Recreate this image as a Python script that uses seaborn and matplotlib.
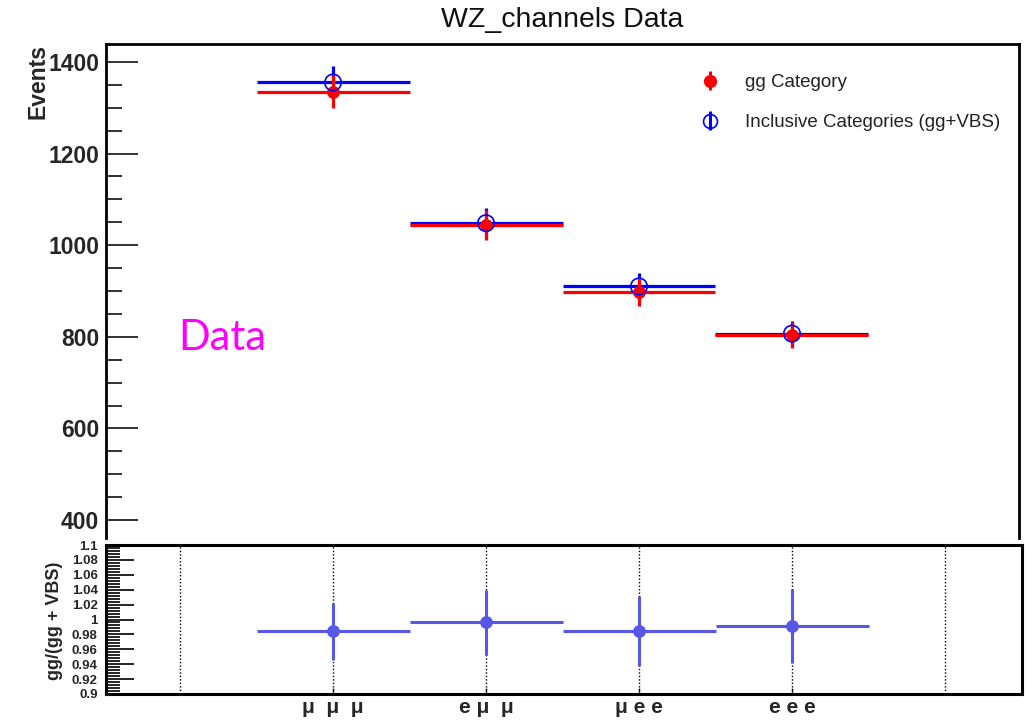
import numpy as np
import matplotlib
matplotlib.use("Agg")
import matplotlib.pyplot as plt
from matplotlib.ticker import MultipleLocator, AutoMinorLocator, FuncFormatter
import seaborn as sns

# ---------------- data ----------------
categories = ["μ  μ  μ", "e μ  μ", "μ e e", "e e e"]
gg_events = [1335, 1044, 898, 803]
gg_errors = [36.5, 32.3, 30.0, 28.3]
incl_events = [1355, 1048, 910, 807]
incl_errors = [36.8, 32.4, 30.2, 28.4]
ratio_values = [0.984, 0.996, 0.984, 0.991]
ratio_errors = [0.038, 0.043, 0.047, 0.050]
bin_half_width = 0.5
edge_lines = [-1, 0, 1, 2, 3, 4]

title_text = "WZ_channels Data"
legend_labels = ["gg Category", "Inclusive Categories (gg+VBS)"]

# ---------------- style ----------------
sns.set_theme(style="ticks")
plt.rcParams["font.family"] = ["Liberation Sans", "DejaVu Sans"]

W, H = 1028, 721
fig = plt.figure(figsize=(W / 100, H / 100), dpi=100)

def frac_box(l, t, r, b):
    return [l / W, 1 - b / H, (r - l) / W, (b - t) / H]

ax = fig.add_axes(frac_box(106, 44, 1019, 538))
ax2 = fig.add_axes(frac_box(106, 545, 1022, 694))

xpos = np.arange(len(categories))
RED = "#ff0000"
BLUE = "#0000ff"
RATIO = "#5858e6"

# --------- top panel ---------
ax.errorbar(xpos, incl_events, xerr=bin_half_width, yerr=incl_errors, fmt="none",
            ecolor=BLUE, elinewidth=2.3, capsize=0, zorder=2)
ax.errorbar(xpos, gg_events, xerr=bin_half_width, yerr=gg_errors, fmt="none",
            ecolor=RED, elinewidth=2.3, capsize=0, zorder=3)
sns.scatterplot(x=xpos, y=gg_events, ax=ax, color=RED, s=85, edgecolor=RED,
                linewidth=0, zorder=4, legend=False)
sns.scatterplot(x=xpos, y=incl_events, ax=ax, facecolor="none", edgecolor=BLUE,
                s=140, linewidth=1.2, zorder=5, legend=False)

# legend proxies (vertical bar only)
h1 = ax.errorbar([np.nan], [np.nan], yerr=[1], fmt="o", color=RED, ms=8.5,
                 elinewidth=2.2, capsize=0)
h2 = ax.errorbar([np.nan], [np.nan], yerr=[1], fmt="o", color=BLUE, mfc="none",
                 ms=10, mew=1.2, elinewidth=2.2, capsize=0)
leg = ax.legend([h1, h2], legend_labels, loc="upper left",
                bbox_to_anchor=(0.651, 0.939), frameon=False, fontsize=13.5,
                handlelength=1.0, handletextpad=1.4, labelspacing=1.22,
                borderpad=0, borderaxespad=0)
for t in leg.get_texts():
    t.set_color("#222222")

ax.set_xlim(-1.484, 4.484)
ax.set_ylim(361, 1439)
ax.yaxis.set_major_locator(MultipleLocator(200))
ax.yaxis.set_minor_locator(AutoMinorLocator(4))
ax.tick_params(axis="y", which="major", direction="in", length=23, width=1.3,
               labelsize=16.5, pad=5, color="#222222")
ax.tick_params(axis="y", which="minor", direction="in", length=11.5, width=1.3,
               color="#222222", left=True)
for lab in ax.get_yticklabels():
    lab.set_fontweight("bold")
ax.tick_params(axis="x", which="both", bottom=False, labelbottom=False)
ax.set_xticks([])
ax.spines["bottom"].set_visible(False)
for s in ["left", "top", "right"]:
    ax.spines[s].set_linewidth(2.0)
    ax.spines[s].set_color("black")
ax.set_ylabel("Events", fontsize=16.5, fontweight="bold", loc="top")
ax.yaxis.set_label_coords(-0.062, 1.0)

ax.text(0.0789, 0.3806, "Data", transform=ax.transAxes, fontsize=30,
        color="#ff00ff", family=["Lato", "DejaVu Sans"], va="baseline", ha="left")

fig.text(562 / W, 1 - 20 / H, title_text, ha="center", va="center",
         fontsize=20.5, color="#111111")

# --------- ratio panel ---------
for xv in edge_lines:
    ax2.axvline(xv, color="black", linestyle=(0, (1, 1.5)), linewidth=1.0, zorder=1)
ax2.errorbar(xpos, ratio_values, xerr=bin_half_width, yerr=ratio_errors, fmt="none",
             ecolor=RATIO, elinewidth=2.2, capsize=0, zorder=3)
sns.scatterplot(x=xpos, y=ratio_values, ax=ax2, color=RATIO, s=85, linewidth=0,
                zorder=4, legend=False)
ax2.set_xlim(-1.484, 4.50)
ax2.set_ylim(0.9, 1.1)
ax2.yaxis.set_major_locator(MultipleLocator(0.02))
ax2.yaxis.set_minor_locator(AutoMinorLocator(5))
ax2.yaxis.set_major_formatter(FuncFormatter(lambda v, p: f"{v:.2f}".rstrip("0").rstrip(".")))
ax2.tick_params(axis="y", which="major", direction="in", length=20, width=1.2,
                labelsize=9.5, pad=6, color="black")
ax2.tick_params(axis="y", which="minor", direction="in", length=10, width=1.2,
                color="black", left=True)
for lab in ax2.get_yticklabels():
    lab.set_fontweight("bold")
ax2.set_xticks(xpos)
ax2.set_xticklabels(categories, fontsize=15, fontweight="bold")
ax2.tick_params(axis="x", which="major", direction="in", length=4, width=1.0, pad=3)
for s in ["left", "top", "right", "bottom"]:
    ax2.spines[s].set_linewidth(2.2)
    ax2.spines[s].set_color("black")
ax2.set_ylabel("gg/(gg + VBS)", fontsize=13, fontweight="bold")
ax2.yaxis.set_label_coords(-0.047, 0.49)
ax2.set_xlabel("")

fig.savefig("out.png", dpi=100, facecolor="white")
